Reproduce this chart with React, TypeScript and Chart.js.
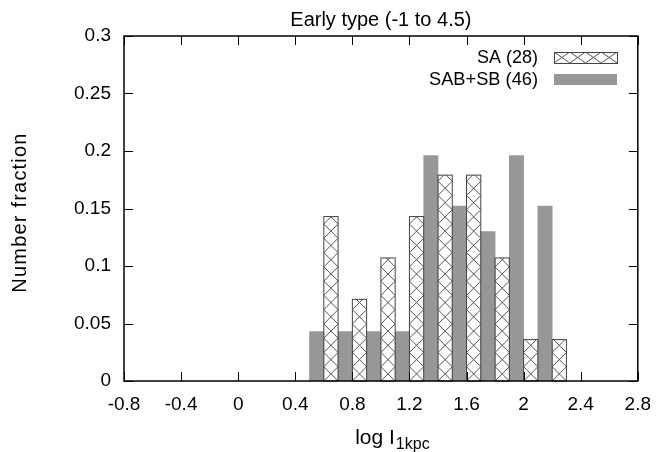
import React, { useEffect, useRef } from "react";
import { Chart, registerables } from "chart.js";

Chart.register(...registerables);

// ---- data ----
const binCenters = [0.6, 0.8, 1.0, 1.2, 1.4, 1.6, 1.8, 2.0, 2.2];
const saFraction = [0.143, 0.071, 0.107, 0.143, 0.179, 0.179, 0.107, 0.036, 0.036];
const sabSbFraction = [0.043, 0.043, 0.043, 0.043, 0.196, 0.152, 0.13, 0.196, 0.152];
const saLabel = "SA (28)";
const sabSbLabel = "SAB+SB (46)";
const titleText = "Early type (-1 to 4.5)";
const yAxisLabel = "Number fraction";
const xAxisMain = "log I";
const xAxisSub = "1kpc";

const xTickValues = [-0.8, -0.4, 0, 0.4, 0.8, 1.2, 1.6, 2, 2.4, 2.8];
const xTickLabels = ["-0.8", "-0.4", "0", "0.4", "0.8", "1.2", "1.6", "2", "2.4", "2.8"];
const yTickValues = [0, 0.05, 0.1, 0.15, 0.2, 0.25, 0.3];
const yTickLabels = ["0", "0.05", "0.1", "0.15", "0.2", "0.25", "0.3"];

const FONT = '"Liberation Sans", Arial, Helvetica, sans-serif';
const GRAY = "#979797";
const HATCH = "#555555";

function drawHatch(ctx: CanvasRenderingContext2D, l: number, t: number, w: number, h: number, cellW: number, cellH: number) {
  ctx.save();
  ctx.beginPath();
  ctx.rect(l, t, w, h);
  ctx.clip();
  ctx.beginPath();
  const b = t + h;
  for (let yy = b; yy > t - cellH; yy -= cellH) {
    for (let xx = l; xx < l + w - 0.01; xx += cellW) {
      ctx.moveTo(xx, yy);
      ctx.lineTo(xx + cellW, yy - cellH);
      ctx.moveTo(xx + cellW, yy);
      ctx.lineTo(xx, yy - cellH);
    }
  }
  ctx.strokeStyle = HATCH;
  ctx.lineWidth = 1;
  ctx.stroke();
  ctx.restore();
}

const decorPlugin = {
  id: "decor",
  afterDatasetsDraw(chart: any) {
    const { ctx, chartArea } = chart;
    const { left, right, top, bottom } = chartArea;
    const xs = chart.scales.x;
    const ys = chart.scales.y;

    // hatched SA bars
    const meta = chart.getDatasetMeta(1);
    meta.data.forEach((el: any) => {
      const p = el.getProps(["x", "y", "base", "width"], true);
      const l = p.x - p.width / 2;
      const t = Math.min(p.y, p.base);
      const h = Math.abs(p.base - p.y);
      drawHatch(ctx, l, t, p.width, h, p.width, p.width);
      ctx.save();
      ctx.strokeStyle = "#444";
      ctx.lineWidth = 1;
      ctx.strokeRect(l, t, p.width, h);
      ctx.restore();
    });

    ctx.save();
    // frame
    ctx.strokeStyle = "#000";
    ctx.lineWidth = 1.5;
    ctx.strokeRect(left, top, right - left, bottom - top);
    // ticks (inward, mirrored)
    ctx.lineWidth = 1;
    ctx.beginPath();
    xTickValues.forEach((v) => {
      const px = Math.round(xs.getPixelForValue(v)) + 0.5;
      ctx.moveTo(px, bottom);
      ctx.lineTo(px, bottom - 9);
      ctx.moveTo(px, top);
      ctx.lineTo(px, top + 9);
    });
    yTickValues.forEach((v) => {
      const py = Math.round(ys.getPixelForValue(v)) + 0.5;
      ctx.moveTo(left, py);
      ctx.lineTo(left + 9, py);
      ctx.moveTo(right, py);
      ctx.lineTo(right - 9, py);
    });
    ctx.stroke();

    // title
    ctx.fillStyle = "#000";
    ctx.font = `20px ${FONT}`;
    ctx.textAlign = "center";
    ctx.textBaseline = "alphabetic";
    ctx.fillText(titleText, (left + right) / 2, 26);

    // y axis label
    ctx.save();
    ctx.translate(26, (top + bottom) / 2 + 4);
    ctx.rotate(-Math.PI / 2);
    ctx.font = `20px ${FONT}`;
    (ctx as any).letterSpacing = "1.2px";
    ctx.textAlign = "center";
    ctx.fillText(yAxisLabel, 0, 0);
    ctx.restore();

    // x axis label with subscript
    ctx.font = `21px ${FONT}`;
    const wMain = ctx.measureText(xAxisMain).width;
    ctx.font = `16px ${FONT}`;
    const wSub = ctx.measureText(xAxisSub).width;
    const cx = (left + right) / 2 + 11;
    const x0 = cx - (wMain + wSub) / 2;
    ctx.textAlign = "left";
    ctx.font = `21px ${FONT}`;
    ctx.fillText(xAxisMain, x0, 444);
    ctx.font = `16px ${FONT}`;
    ctx.fillText(xAxisSub, x0 + wMain + 1, 449);

    // legend
    ctx.font = `19px ${FONT}`;
    ctx.textAlign = "right";
    ctx.textBaseline = "middle";
    ctx.fillText(saLabel, 538, 58, 61);
    ctx.fillText(sabSbLabel, 538, 80, 109);
    ctx.fillStyle = "#fff";
    ctx.fillRect(554, 52, 63, 11);
    drawHatch(ctx, 554, 52, 63, 11, 63 / 4, 11);
    ctx.strokeStyle = "#444";
    ctx.strokeRect(554.5, 52.5, 63, 11);
    ctx.fillStyle = GRAY;
    ctx.fillRect(554, 74, 63, 11);
    ctx.restore();
  },
};

export default function App() {
  const ref = useRef<HTMLCanvasElement | null>(null);
  useEffect(() => {
    if (!ref.current) return;
    const chart = new Chart(ref.current, {
      type: "bar",
      data: {
        datasets: [
          {
            label: sabSbLabel,
            data: binCenters.map((c, i) => ({ x: c, y: sabSbFraction[i] })),
            backgroundColor: GRAY,
            borderWidth: 0,
          },
          {
            label: saLabel,
            data: binCenters.map((c, i) => ({ x: c, y: saFraction[i] })),
            backgroundColor: "#ffffff",
            borderWidth: 0,
          },
        ],
      },
      options: {
        animation: false,
        responsive: true,
        maintainAspectRatio: false,
        categoryPercentage: 1,
        barPercentage: 1,
        layout: { padding: { left: 0, top: 36, right: 20, bottom: 0 } },
        plugins: { legend: { display: false }, title: { display: false }, tooltip: { enabled: false } },
        font: { family: FONT },
        scales: {
          x: {
            type: "linear",
            min: -0.8,
            max: 2.8,
            offset: false,
            grid: { display: false, drawTicks: false },
            border: { display: false },
            afterBuildTicks: (s: any) => {
              s.ticks = xTickValues.map((v) => ({ value: v }));
            },
            afterFit: (s: any) => {
              s.height = 71;
            },
            ticks: {
              autoSkip: false,
              maxRotation: 0,
              padding: 12,
              color: "#000",
              font: { family: FONT, size: 19 },
              callback: (v: any) => {
                const i = xTickValues.findIndex((t) => Math.abs(t - v) < 1e-9);
                return i >= 0 ? xTickLabels[i] : "";
              },
            },
          },
          y: {
            type: "linear",
            min: 0,
            max: 0.3,
            grid: { display: false, drawTicks: false },
            border: { display: false },
            afterBuildTicks: (s: any) => {
              s.ticks = yTickValues.map((v) => ({ value: v }));
            },
            afterFit: (s: any) => {
              s.width = 124;
            },
            ticks: {
              autoSkip: false,
              padding: 13,
              color: "#000",
              font: { family: FONT, size: 19 },
              callback: (v: any) => {
                const i = yTickValues.findIndex((t) => Math.abs(t - v) < 1e-9);
                return i >= 0 ? yTickLabels[i] : "";
              },
            },
          },
        },
      } as any,
      plugins: [decorPlugin],
    });
    return () => chart.destroy();
  }, []);
  return (
    <div style={{ position: "fixed", left: 0, top: 0, width: 663, height: 452, background: "#fff" }}>
      <canvas ref={ref} />
    </div>
  );
}
